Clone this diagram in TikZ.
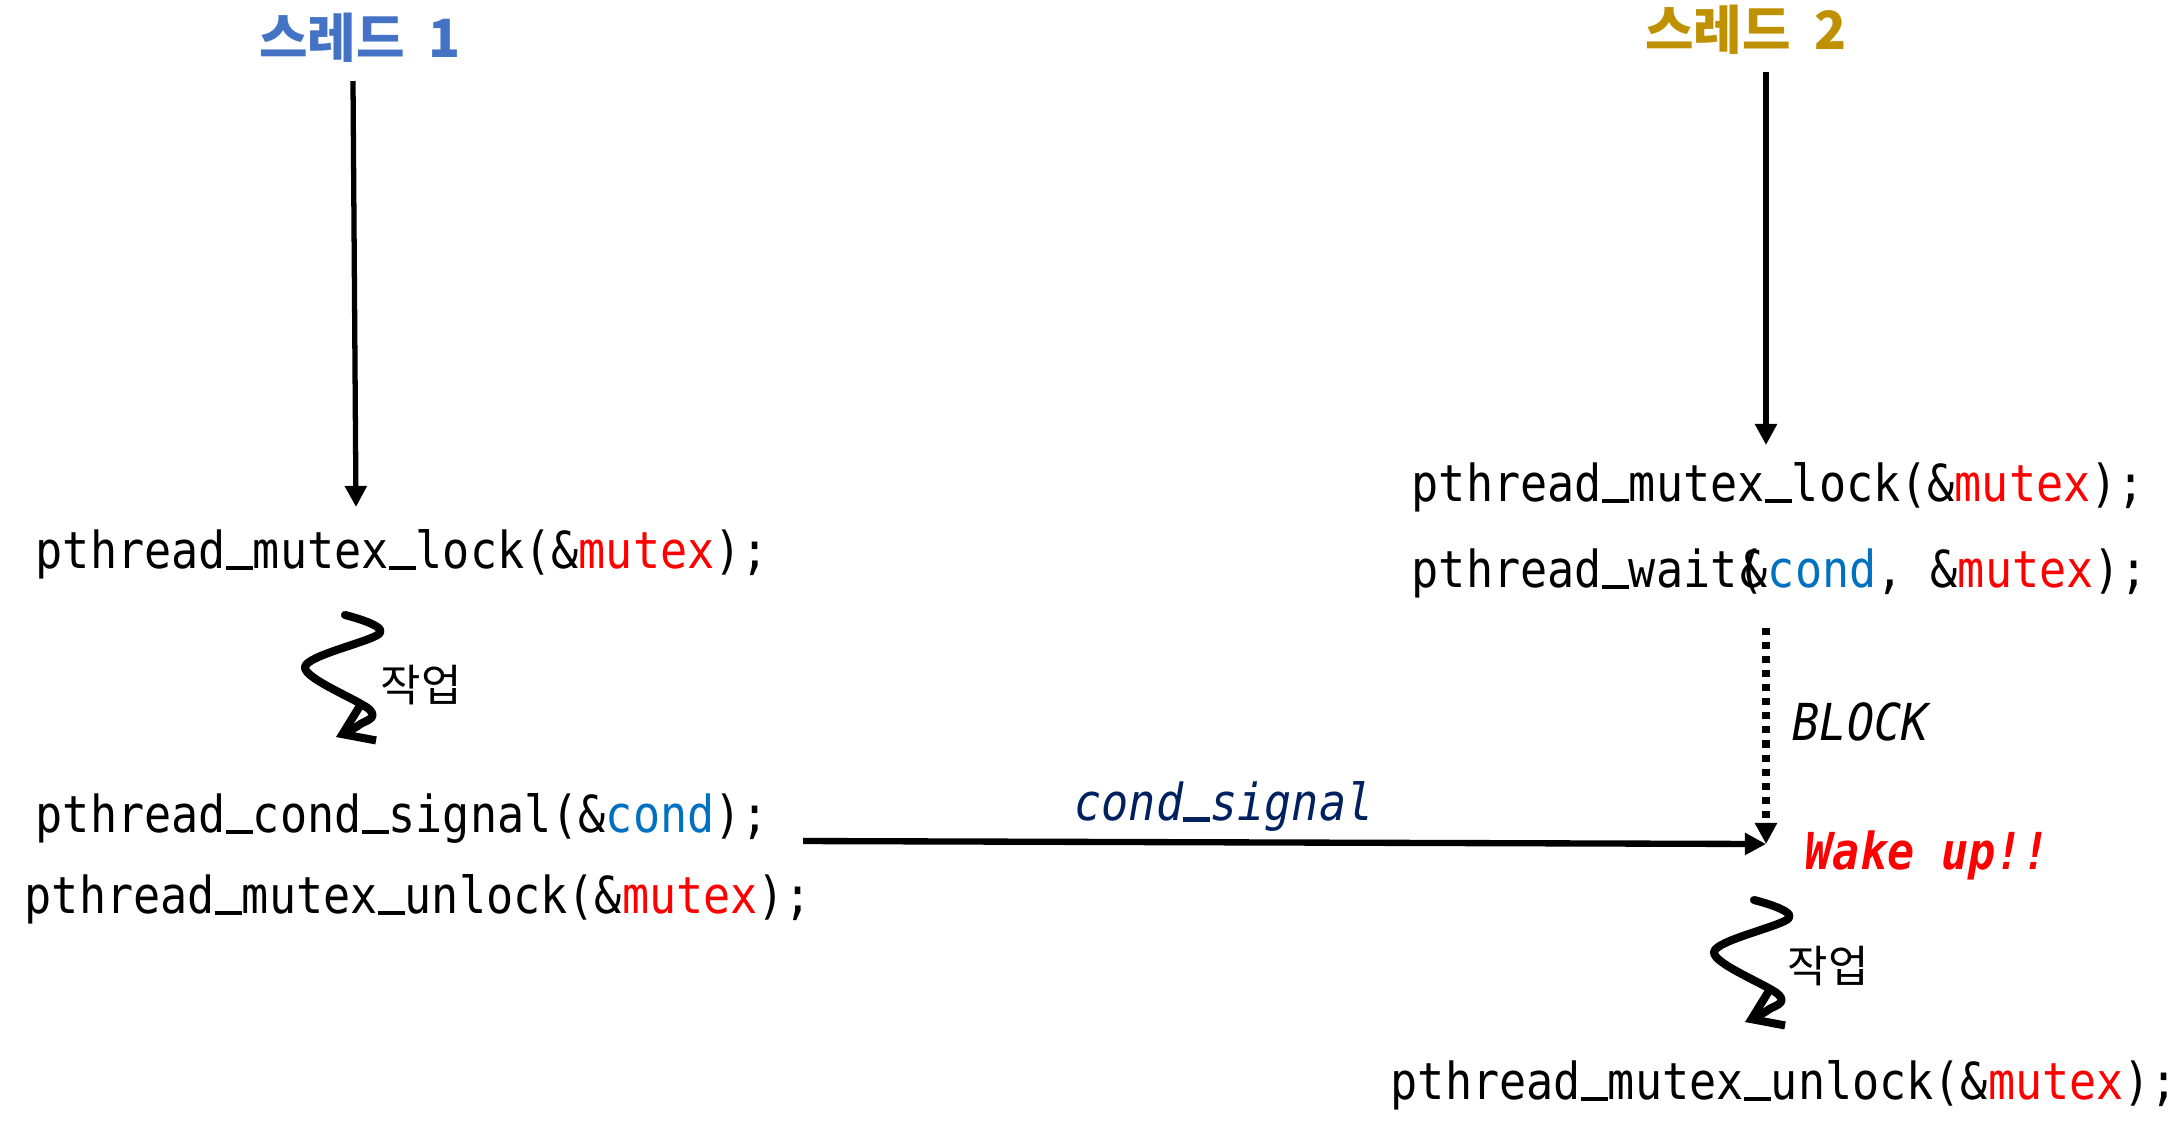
\documentclass[tikz,border=0pt]{standalone}
\usepackage{fontspec}
\usetikzlibrary{arrows.meta, calc}
\newfontfamily\codefont[FakeStretch=0.885]{DejaVu Sans Mono}
\newfontfamily\krfont{Noto Sans CJK KR}
\definecolor{mtxred}{RGB}{255,0,0}
\definecolor{cndblue}{RGB}{0,112,192}
\definecolor{signavy}{RGB}{0,32,96}
\definecolor{thrblue}{RGB}{68,114,196}
\definecolor{thrgold}{RGB}{191,144,0}
\newcommand{\mtx}{\textcolor{mtxred}{mutex}}
\newcommand{\cnd}{\textcolor{cndblue}{cond}}
\newcommand{\us}{\leavevmode\rlap{\rule[-0.03em]{0.53em}{0.085em}}\phantom{x}}
\tikzset{
  code/.style={anchor=west, inner sep=0pt, font=\codefont\fontsize{14.5}{17}\selectfont},
  title/.style={inner sep=0pt, font=\krfont\bfseries\fontsize{15}{18}\selectfont},
  work/.style={anchor=west, inner sep=0pt, font=\krfont\fontsize{12.5}{15}\selectfont},
  flow/.style={line width=1.5pt, -{Triangle[length=6pt, width=6pt]}},
  squig/.style={line width=2.3pt, line cap=round, line join=round, -{Straight Barb[length=8pt, width=11pt]}}
}
\begin{document}
\begin{tikzpicture}
    \useasboundingbox (0,0) rectangle (21.79,-11.36);
    % thread titles
    \node[title, text=thrblue] (t1) at (3.60,-0.38) {스레드\ \ 1};
    \node[title, text=thrgold] (t2) at (17.46,-0.30) {스레드\ \ 2};
    % thread 1
    \node[code] (lockA) at (0.35,-5.545) {pthread\us mutex\us lock(\&\mtx);};
    \node[code] (signalA) at (0.35,-8.185) {pthread\us cond\us signal(\&\cnd);};
    \node[code] (unlockA) at (0.24,-8.995) {pthread\us mutex\us unlock(\&\mtx);};
    \node[work] (workA) at (3.80,-6.85) {작업};
    % thread 2
    \node[code] (lockB) at (14.11,-4.875) {pthread\us mutex\us lock(\&\mtx);};
    \node[code] (waitB) at (14.11,-5.735) {pthread\us wait(\kern-0.47em\&\cnd, \&\mtx);};
    \node[code] (unlockB) at (13.90,-10.855) {pthread\us mutex\us unlock(\&\mtx);};
    \node[work] (workB) at (17.87,-9.66) {작업};
    \node[code, font=\codefont\itshape\fontsize{14.5}{17}\selectfont] (blk) at (17.92,-7.22) {BLOCK};
    \node[code, text=mtxred, font=\codefont\bfseries\itshape\fontsize{14.5}{17}\selectfont] (wake) at (18.05,-8.55) {Wake up!!};
    \node[inner sep=0pt, text=signavy, font=\codefont\itshape\fontsize{14.5}{17}\selectfont] (sig) at (12.24,-8.06) {cond\us signal};
    % arrow end points
    \coordinate (s1) at (3.53,-0.81);
    \coordinate (e1) at (3.56,-5.07);
    \coordinate (s2) at (17.66,-0.72);
    \coordinate (e2) at (17.66,-4.45);
    \coordinate (bs) at (17.66,-6.28);
    \coordinate (wk) at (17.66,-8.44);
    \coordinate (gs) at (8.03,-8.41);
    \draw[flow] (s1) -- (e1);
    \draw[flow] (s2) -- (e2);
    \draw[flow, line width=2.1pt, dash pattern=on 2pt off 2pt] (bs) -- (wk);
    \draw[flow, line width=1.8pt] (gs) -- (wk);
    % work squiggles
    \foreach \sx/\sy in {3.45/-6.15, 17.54/-9.00} {
      \draw[squig, shift={(\sx,\sy)}] plot[smooth, tension=0.55] coordinates {(0,0) (0.35,-0.18) (-0.40,-0.52) (0.25,-0.95) (0.14,-1.10) (-0.09,-1.22)};
    }
\end{tikzpicture}
\end{document}
